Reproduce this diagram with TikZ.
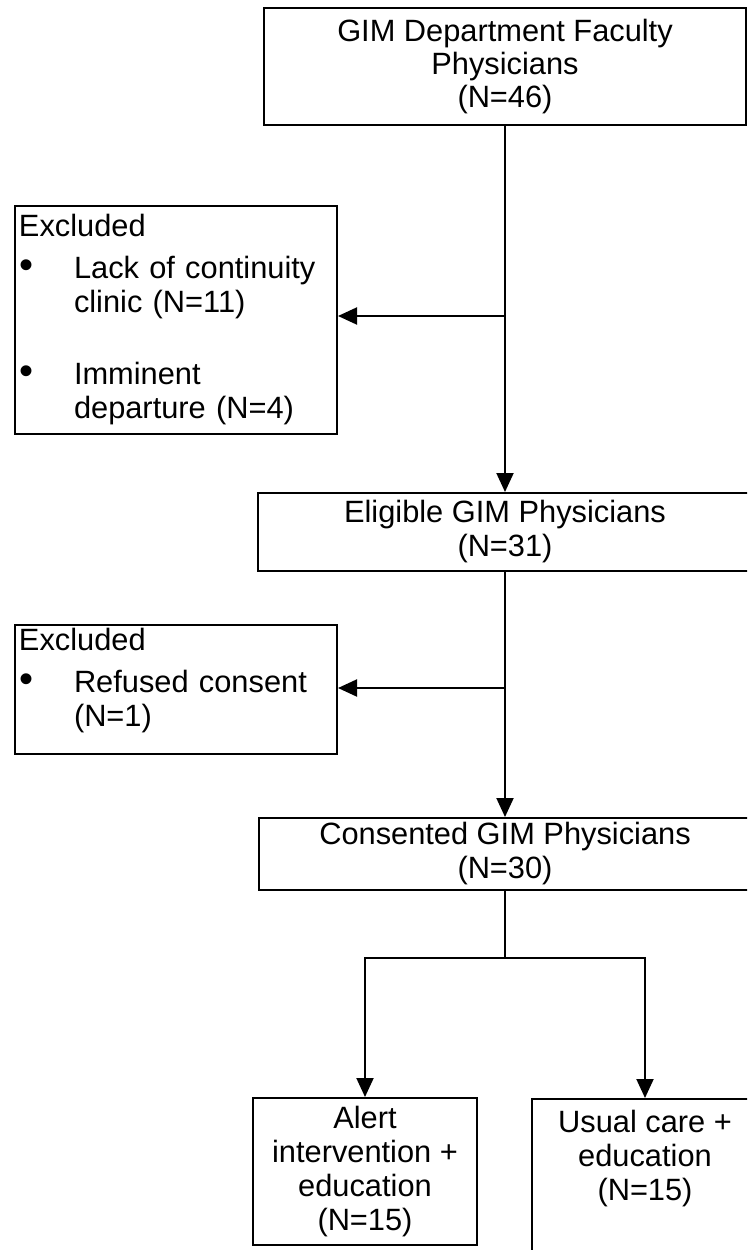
\documentclass[tikz,border=0pt]{standalone}
\usepackage{fontspec}
\setmainfont{Liberation Sans}
\usetikzlibrary{arrows.meta}
\tikzstyle{block} = [rectangle, draw, line width=2pt, inner sep=3pt,
    font=\fontsize{30.8}{34}\selectfont, align=center]
\tikzstyle{excl} = [block, align=left, text width=314pt]
\tikzstyle{line} = [draw, line width=2pt, -{Triangle[length=19pt,width=17pt]}]
\newcommand{\bul}{\makebox[55pt][l]{\hspace{1pt}\scalebox{1.3}{\textbullet}}}
\newcommand{\ind}{\hspace*{55pt}}

\begin{document}
\begin{tikzpicture}[x=1pt, y=-1pt]
    \useasboundingbox (0,0) rectangle (747,1250);
    \clip (0,0) rectangle (747,1250);
    % Place nodes
    \node [block, minimum width=482pt, minimum height=117pt, font=\fontsize{30.8}{33}\selectfont] (gim) at (505,66.5)
        {GIM Department Faculty\\Physicians\\(N=46)};
    \node [excl, minimum width=322pt, minimum height=228pt] (excl1) at (176,320)
        {Excluded\\[8pt]\bul Lack of continuity\\\ind clinic (N=11)\\[38pt]\bul Imminent\\\ind departure (N=4)};
    \node [block, minimum width=494pt, minimum height=78pt] (elig) at (505,532)
        {Eligible GIM Physicians\\(N=31)};
    \node [excl, minimum width=322pt, minimum height=127pt] (excl2) at (176,689.5)
        {Excluded\\[8pt]\bul Refused consent\\\ind (N=1)\\[-10pt]\mbox{}};
    \node [block, minimum width=492pt, minimum height=72pt] (cons) at (505,854)
        {Consented GIM Physicians\\(N=30)};
    \node [block, minimum width=224pt, minimum height=147pt] (alert) at (365,1171.5)
        {Alert\\intervention +\\education\\(N=15)};
    \node [block, minimum width=226pt, anchor=north, inner ysep=11pt, text depth=120pt] (usual) at (645,1098)
        {Usual care +\\education\\(N=15)};
    % Draw edges
    \coordinate (j1) at (505,316);
    \coordinate (j2) at (505,688);
    \coordinate (split) at (505,958);
    \path [line] (gim.south) -- (elig.north);
    \path [line] (j1) -- (j1 -| excl1.east);
    \path [line] (elig.south) -- (cons.north);
    \path [line] (j2) -- (j2 -| excl2.east);
    \draw [line width=2pt] (cons.south) -- (split);
    \path [line] (split) -| (alert.north);
    \path [line] (split) -| (usual.north);
\end{tikzpicture}
\end{document}
